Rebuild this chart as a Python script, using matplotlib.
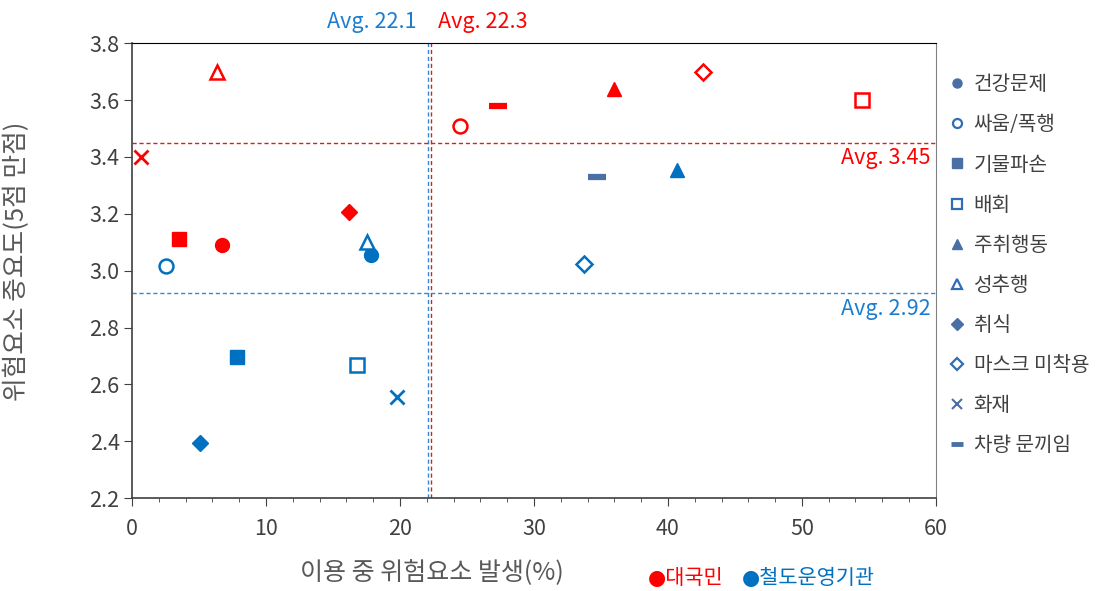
import matplotlib
matplotlib.use("Agg")
import matplotlib.pyplot as plt
from matplotlib.lines import Line2D
from matplotlib.ticker import MultipleLocator, FormatStrFormatter

plt.rcParams['font.family'] = ['Noto Sans CJK KR', 'DejaVu Sans']

# risk categories
categories = ['건강문제', '싸움/폭행', '기물파손', '배회', '주취행동',
              '성추행', '취식', '마스크 미착용', '화재', '차량 문끼임']

# general public (대국민)
public_x = [6.7, 24.5, 3.5, 54.5, 36.0, 6.3, 16.2, 42.6, 0.7, 27.3]
public_y = [3.09, 3.51, 3.11, 3.60, 3.64, 3.70, 3.205, 3.70, 3.40, 3.58]

# railway operators (철도운영기관)
oper_x = [17.8, 2.5, 7.8, 16.8, 40.7, 17.5, 5.1, 33.7, 19.8, 34.7]
oper_y = [3.055, 3.015, 2.695, 2.67, 3.355, 3.10, 2.395, 3.025, 2.555, 3.33]

public_avg_x, public_avg_y = 22.3, 3.45
oper_avg_x, oper_avg_y = 22.1, 2.92

RED = '#ff0000'
BLUE = '#0070c0'
AVG_BLUE = '#1a7dd0'
SLATE = '#4a6fa5'
GRAY = '#595959'

# marker style per category: (marker, filled)
styles = [('o', True), ('o', False), ('s', True), ('s', False), ('^', True),
          ('^', False), ('D', True), ('D', False), ('x', True), ('_', True)]
sizes = {'o': 10, 's': 10, '^': 10, 'D': 8, 'x': 9.5, '_': 13}

fig = plt.figure(figsize=(11.01, 5.91), dpi=100)
ax = fig.add_axes([0.12, 0.157, 0.730, 0.770])


def draw(xs, ys, color, dash_color=None):
    for i, (m, filled) in enumerate(styles):
        c = color
        if m == '_' and dash_color is not None:
            c = dash_color
        kw = dict(marker=m, markersize=sizes[m], linestyle='none', zorder=5)
        if m == 'x':
            kw.update(color=c, markeredgewidth=2)
        elif m == '_':
            kw.update(color=c, markeredgewidth=4.5)
        elif filled:
            kw.update(markerfacecolor=c, markeredgecolor=c, markeredgewidth=1)
        else:
            kw.update(markerfacecolor='white', markeredgecolor=c, markeredgewidth=1.8)
        ax.plot([xs[i]], [ys[i]], **kw)


draw(public_x, public_y, RED)
draw(oper_x, oper_y, BLUE, dash_color=SLATE)

# average reference lines
dash = (0, (3, 2))
ax.axvline(oper_avg_x, color='#2e8ad8', lw=1, ls=dash, zorder=2)
ax.axvline(public_avg_x, color='#d92020', lw=1, ls=dash, zorder=2)
ax.axhline(public_avg_y, color='#d92020', lw=1, ls=dash, zorder=2)
ax.axhline(oper_avg_y, color='#2e8ad8', lw=1, ls=dash, zorder=2)

ax.text(oper_avg_x - 0.9, 3.835, f'Avg. {oper_avg_x}', color=AVG_BLUE,
        fontsize=15.5, ha='right', va='bottom')
ax.text(public_avg_x + 0.5, 3.835, f'Avg. {public_avg_x}', color=RED,
        fontsize=15.5, ha='left', va='bottom')
ax.text(59.6, public_avg_y - 0.015, f'Avg. {public_avg_y}', color=RED,
        fontsize=15.5, ha='right', va='top')
ax.text(59.6, oper_avg_y - 0.015, f'Avg. {oper_avg_y}', color=AVG_BLUE,
        fontsize=15.5, ha='right', va='top')

ax.set_xlim(0, 60)
ax.set_ylim(2.2, 3.8)
ax.xaxis.set_major_locator(MultipleLocator(10))
ax.xaxis.set_minor_locator(MultipleLocator(2))
ax.yaxis.set_major_locator(MultipleLocator(0.2))
ax.yaxis.set_major_formatter(FormatStrFormatter('%.1f'))
ax.tick_params(axis='both', which='major', labelsize=15.5, colors='#404040',
               length=6, direction='out')
ax.tick_params(axis='x', which='minor', length=3, color='#404040')
ax.tick_params(axis='x', pad=8)
ax.tick_params(axis='y', pad=3)
for s in ['left', 'bottom']:
    ax.spines[s].set_color('#404040')
    ax.spines[s].set_linewidth(1.2)
ax.spines['top'].set_color('black')
ax.spines['right'].set_color('#808080')

ax.set_xlabel('이용 중 위험요소 발생(%)', fontsize=18, color=GRAY)
ax.xaxis.set_label_coords(0.373, -0.137)
ax.set_ylabel('위험요소 중요도(5점 만점)', fontsize=18.5, color=GRAY)
ax.yaxis.set_label_coords(-0.127, 0.52)

# group key under the x axis
key_font = ['DejaVu Sans', 'Noto Sans CJK KR']
fig.text(0.588, 0.022, '●대국민', color=RED, fontsize=15, va='center',
         family=key_font)
fig.text(0.674, 0.022, '●철도운영기관', color=BLUE, fontsize=15, va='center',
         family=key_font)

# category legend with neutral markers
handles = []
for (m, filled), name in zip(styles, categories):
    kw = dict(marker=m, linestyle='none', color=SLATE, markersize=6.5)
    if m == 'x':
        kw.update(markeredgewidth=1.5)
    elif m == '_':
        kw.update(markersize=9, markeredgewidth=3.5)
    elif not filled:
        kw.update(markerfacecolor='white', markeredgecolor='#2f6db5', markeredgewidth=1.6)
    handles.append(Line2D([], [], label=name, **kw))
leg = fig.legend(handles=handles, loc='upper left', bbox_to_anchor=(0.855, 0.888),
                 frameon=False, fontsize=14.5, labelspacing=0.95, handlelength=0.8,
                 handletextpad=0.4, borderaxespad=0)
for t in leg.get_texts():
    t.set_color('#404040')

fig.savefig('out.png', dpi=100)
